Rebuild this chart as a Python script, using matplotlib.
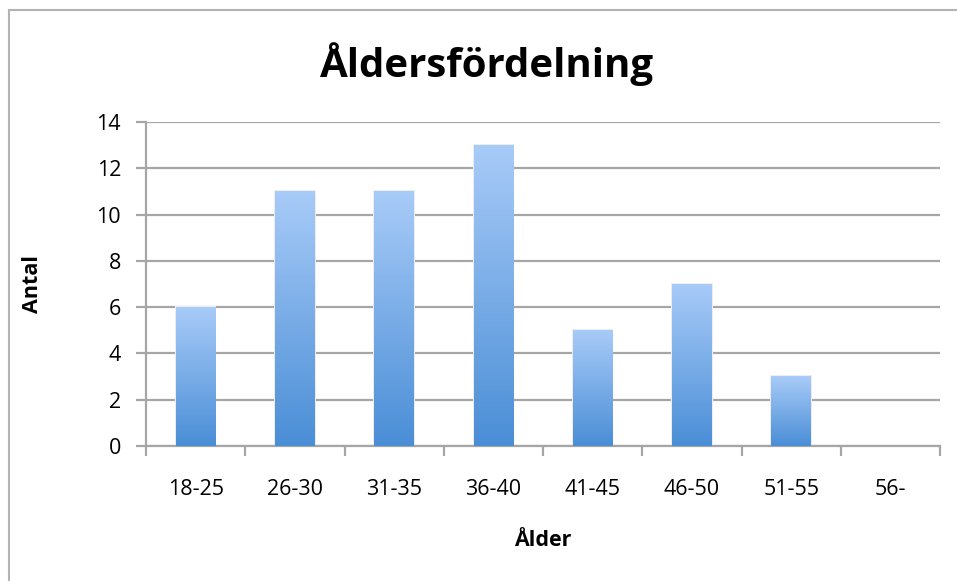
import matplotlib
matplotlib.use("Agg")
import matplotlib.pyplot as plt
import numpy as np
from matplotlib.colors import LinearSegmentedColormap
from matplotlib.patches import Rectangle

categories = ["18-25", "26-30", "31-35", "36-40", "41-45", "46-50", "51-55", "56-"]
values = [6, 11, 11, 13, 5, 7, 3, 0]
title = "Åldersfördelning"
xlabel = "Ålder"
ylabel = "Antal"

plt.rcParams['font.family'] = ['Open Sans', 'DejaVu Sans']

W, H = 957, 581
fig = plt.figure(figsize=(W/100, H/100), dpi=100)
fig.patch.set_facecolor("white")

# outer frame
fig.add_artist(Rectangle((9/W, -0.05), 1.2, 1 - 10/H + 0.05, transform=fig.transFigure,
                         fill=False, edgecolor="#b3b3b3", linewidth=1.5))

ax = fig.add_axes([146/W, 1 - 446/H, (940-146)/W, (446-122)/H])
grid_c = "#a6a6a6"
x = np.arange(len(categories))
bw = 0.4
bars = ax.bar(x, values, width=bw, color="none", edgecolor="none", zorder=3)

cmap = LinearSegmentedColormap.from_list("g", ["#4a8ed6", "#a8cbf8"])
grad = np.linspace(0, 1, 256).reshape(-1, 1)
for b, v in zip(bars, values):
    if v <= 0:
        continue
    x0 = b.get_x()
    # soft shadow
    ax.add_patch(Rectangle((x0 - 0.01, 0), bw + 0.02, v + 0.05, facecolor="#ededed",
                           edgecolor="none", zorder=2.5))
    ax.imshow(grad, extent=[x0, x0 + bw, 0, v], origin="lower", aspect="auto",
              cmap=cmap, zorder=3, interpolation="bilinear")

ax.set_xlim(-0.5, len(categories) - 0.5)
ax.set_ylim(0, 14)
ax.set_yticks(range(0, 15, 2))
ax.yaxis.grid(True, color=grid_c, linewidth=1.6, zorder=1)
ax.set_axisbelow(True)

ax.set_xticks(x)
ax.set_xticklabels(categories, fontsize=15.5)
ax.set_xticks(np.arange(-0.5, len(categories), 1), minor=True)
ax.tick_params(axis="x", which="major", length=0, pad=24)
ax.tick_params(axis="x", which="minor", length=7, width=1.6, color=grid_c)
ax.tick_params(axis="y", length=7, width=1.6, color=grid_c, labelsize=15.5, pad=11)

for s in ["top", "right"]:
    ax.spines[s].set_visible(False)
ax.spines["left"].set_color(grid_c)
ax.spines["left"].set_linewidth(1.6)
ax.spines["bottom"].set_color(grid_c)
ax.spines["bottom"].set_linewidth(1.6)

fig.text(487/W, 1 - 64/H, title, ha="center", va="center", fontsize=29, fontweight="bold")
fig.text(543/W, 1 - 541/H, xlabel, ha="center", va="center", fontsize=15.5, fontweight="bold")
fig.text(33/W, 1 - 284/H, ylabel, ha="center", va="center", fontsize=15.5, fontweight="bold",
         rotation=90)

fig.savefig("out.png", dpi=100)
